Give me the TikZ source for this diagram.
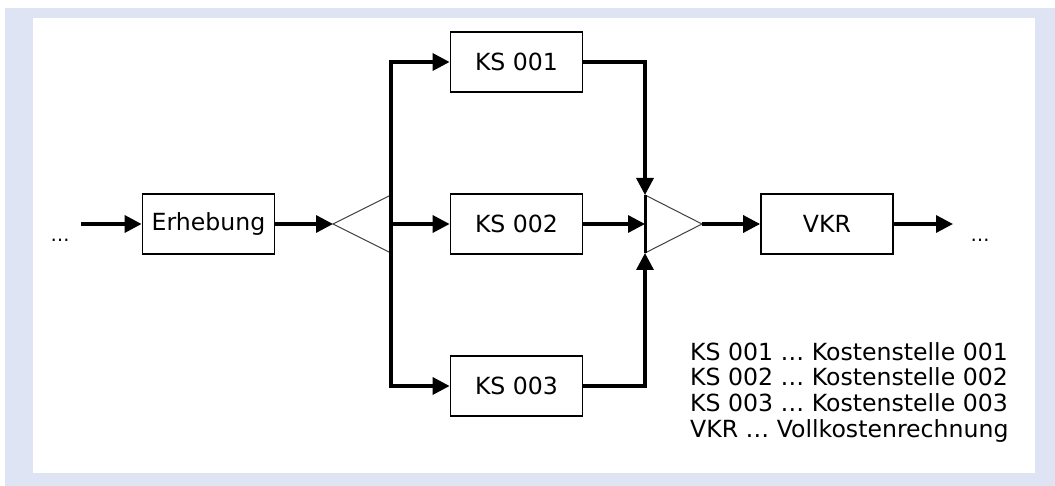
\documentclass[tikz,border=0pt]{standalone}
\usepackage{fontspec}
\setmainfont{DejaVu Sans}
\usepackage{tikz}
\usetikzlibrary{arrows.meta}
\definecolor{framebg}{RGB}{223,228,245}
\tikzset{%
  tipA/.tip={Triangle[length=17pt,width=17pt]},
  block/.style={draw, line width=1.8pt, minimum width=132pt, minimum height=60pt, inner sep=0pt},
  flow/.style={line width=3.4pt, -tipA},
  wire/.style={line width=3pt},
  junction/.style={line width=1pt, black!75},
  dots/.style={font=\fontsize{19}{20}\selectfont, inner sep=0pt, anchor=base}
}

\begin{document}
\begin{tikzpicture}[x=1pt,y=-1pt,font=\fontsize{23.6}{25.7}\selectfont]
\useasboundingbox (0,0) rectangle (1055,486);
\fill[framebg] (5,8) rectangle (1055,486);
\fill[white] (33,18) rectangle (1035,473);
% blocks
\node[block] (erh) at (208.5,224) {Erhebung};
\node[block] (ks1) at (516.5,62) {KS 001};
\node[block] (ks2) at (516.5,224) {KS 002};
\node[block] (ks3) at (516.5,386) {KS 003};
\node[block] (vkr) at (827,224) {VKR};
% splitter and merger
\coordinate (sptip) at (333,224);
\coordinate (spmid) at (391,224);
\coordinate (spup) at (391,195);
\coordinate (splo) at (391,253);
\coordinate (mgmid) at (645,224);
\coordinate (mgup) at (645,195);
\coordinate (mglo) at (645,253);
\coordinate (mgtip) at (702,224);
\draw[junction] (spup) -- (sptip) -- (splo);
\draw[junction] (mgup) -- (mgtip) -- (mglo);
\draw[wire] (mgup) -- (mglo);
% in and out
\coordinate (in) at (81,224);
\coordinate (out) at (953,224);
\node[dots] (dotsin) at (60,242) {…};
\node[dots] (dotsout) at (980,242) {…};
% connectors
\draw[flow] (in) -- (erh);
\draw[flow] (erh) -- (sptip);
\draw[flow] (spmid) |- (ks1);
\draw[flow] (spmid) -- (ks2);
\draw[flow] (spmid) |- (ks3);
\draw[flow] (ks1) -| (mgup);
\draw[flow] (ks2) -- (mgmid);
\draw[flow] (ks3) -| (mglo);
\draw[flow] (mgtip) -- (vkr);
\draw[flow] (vkr) -- (out);
% legend
\node[anchor=north west, inner sep=0pt, align=left] (legend) at (690,342)
  {KS 001 … Kostenstelle 001\\KS 002 … Kostenstelle 002\\KS 003 … Kostenstelle 003\\VKR … Vollkostenrechnung};
\end{tikzpicture}
\end{document}
